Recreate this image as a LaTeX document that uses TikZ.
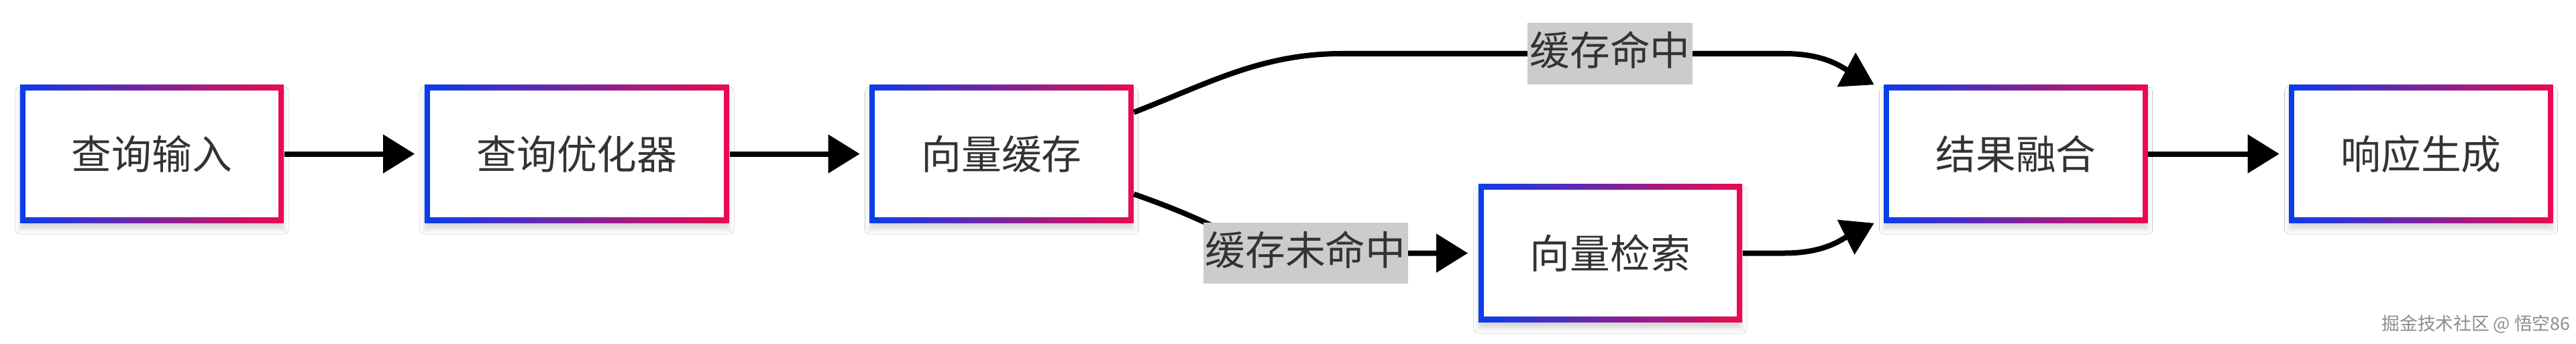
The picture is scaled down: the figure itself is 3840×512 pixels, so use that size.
\documentclass[tikz,border=0pt]{standalone}
\usepackage{fontspec}
\setmainfont{Noto Sans CJK SC}
\usetikzlibrary{arrows.meta,shadows.blur}
\definecolor{cB}{HTML}{0A3DEB}
\definecolor{cR}{HTML}{EB0A4E}
\definecolor{txt}{HTML}{333333}
\definecolor{lblbg}{HTML}{CCCCCC}
\definecolor{wmc}{HTML}{8C8C8C}
\begin{document}
\begin{tikzpicture}[x=0.01cm,y=-0.01cm,
  box/.style={minimum width=3.93cm, minimum height=2.05cm, inner sep=0pt,
    left color=cB, right color=cR, text=txt,
    font=\fontsize{17pt}{20pt}\selectfont,
    blur shadow={shadow xshift=0cm, shadow yshift=-0.1cm, shadow blur radius=0.07cm, shadow opacity=15},
    path picture={\fill[white] ([xshift=0.08cm,yshift=-0.08cm]path picture bounding box.north west) rectangle ([xshift=-0.08cm,yshift=0.08cm]path picture bounding box.south east);}},
  lbl/.style={fill=lblbg, text=txt, font=\fontsize{17pt}{20pt}\selectfont,
    inner xsep=0.03cm, inner ysep=0.15cm, text height=0.48cm, text depth=0.13cm},
  arr/.style={line width=0.08cm, black, -{Triangle[length=0.47cm,width=0.56cm]}},
  gap/.style={shorten >=0.14cm}
]
\useasboundingbox (0,0) rectangle (3840,512);
\fill[white] (0,0) rectangle (3840,512);

\node[box] (n1) at (226.5,229.5) {查询输入};
\node[box, minimum width=4.54cm] (n2) at (860,229.5) {查询优化器};
\node[box] (n3) at (1493,229.5) {向量缓存};
\node[box] (n4) at (2400.5,377.5) {向量检索};
\node[box] (n5) at (3005,229.5) {结果融合};
\node[box] (n6) at (3609,229.5) {响应生成};

\draw[arr, gap] (n1) -- (n2);
\draw[arr, gap] (n2) -- (n3);
\draw[arr, gap] (n5) -- (n6);

% cache hit
\draw[arr] ([yshift=0.62cm]n3.east) .. controls (1800,125) and (1880,80) .. (2000,80)
  -- node[lbl, pos=0.606] (l1) {缓存命中} (2660,80)
  .. controls (2720,80) and (2745,100) .. ([xshift=-0.14cm]n5.north west);

% cache miss
\draw[arr] ([yshift=-0.60cm]n3.east) .. controls (1850,345) and (1860,377.5) .. (1920,377.5)
  -- node[lbl, pos=0.097] (l2) {缓存未命中} ([xshift=-0.15cm]n4.west);

% retrieval to fusion
\draw[arr] (n4.east) -- (2660,377.5)
  .. controls (2720,377.5) and (2745,357) .. ([xshift=-0.14cm]n5.south west);

\node[anchor=east, text=wmc, font=\fontsize{7.6pt}{9pt}\selectfont, inner sep=0pt] (wm) at (3832,483) {掘金技术社区 @ 悟空86};
\end{tikzpicture}
\end{document}
